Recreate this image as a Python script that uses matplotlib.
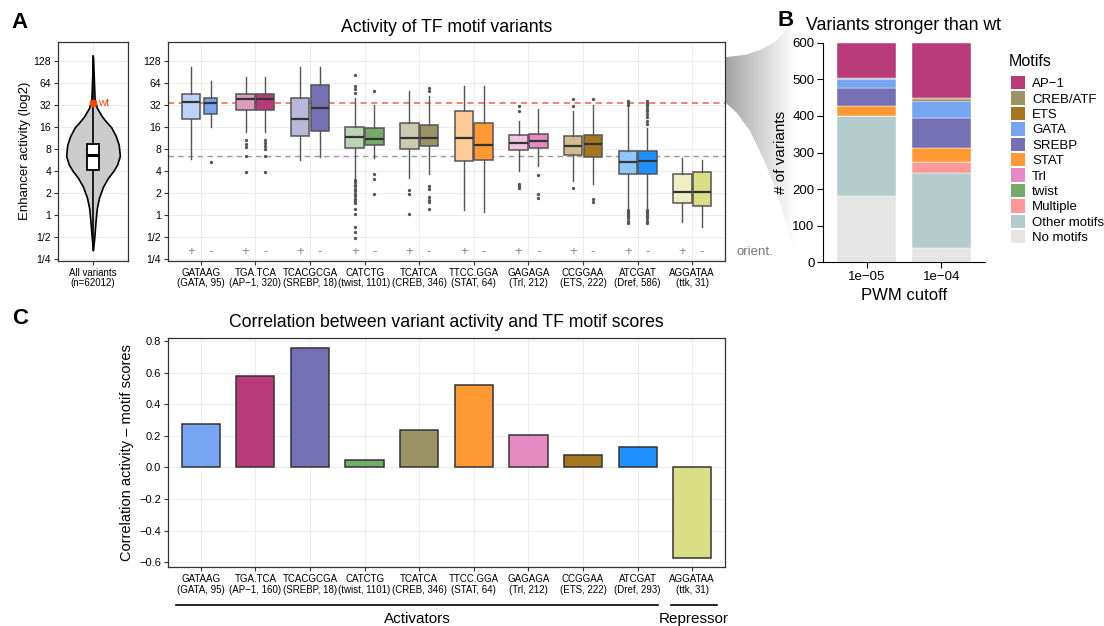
import matplotlib
matplotlib.use('Agg')
import matplotlib.pyplot as plt
import numpy as np
from matplotlib.patches import Patch, Polygon
from matplotlib.lines import Line2D
from matplotlib.colors import to_rgb

plt.rcParams['font.family'] = ['Liberation Sans', 'DejaVu Sans']

W, H = 1104, 626

# ---------------- data ----------------
motif_seqs = ['GATAAG', 'TGA.TCA', 'TCACGCGA', 'CATCTG', 'TCATCA',
              'TTCC.GGA', 'GAGAGA', 'CCGGAA', 'ATCGAT', 'AGGATAA']
motif_tfs = ['GATA', 'AP−1', 'SREBP', 'twist', 'CREB', 'STAT', 'Trl', 'ETS', 'Dref', 'ttk']
n_variants_a = [95, 320, 18, 1101, 346, 64, 212, 222, 586, 31]
n_variants_c = [95, 160, 18, 1101, 346, 64, 212, 222, 293, 31]
motif_colors = ['#76A6F2', '#B83A78', '#7570B3', '#74AA6A', '#9A9464',
                '#FF9933', '#E78AC3', '#A5761F', '#1E90FF', '#DADE84']

# enhancer activity (log2) box stats, "+" orientation
plus_lo = [2.56, 3.78, 2.53, 1.70, 1.70, 0.25, 2.00, 1.54, 0.32, -0.32]
plus_q1 = [4.36, 4.80, 3.59, 3.07, 2.99, 2.46, 2.96, 2.73, 1.88, 0.55]
plus_med = [5.16, 5.28, 4.38, 3.55, 3.52, 3.51, 3.30, 3.17, 2.43, 1.04]
plus_q3 = [5.54, 5.52, 5.34, 4.03, 4.21, 4.74, 3.63, 3.60, 2.91, 1.88]
plus_hi = [6.77, 6.27, 6.77, 5.35, 5.64, 5.89, 4.29, 4.74, 4.92, 2.61]
plus_fliers = [
    [],
    [3.43, 3.26, 3.11, 2.68, 1.95],
    [],
    [6.39, 5.89, 5.73, 5.58, 1.62, 1.50, 1.39, 1.32, 1.19, 1.08, 0.98, 0.86,
     0.74, 0.63, 0.55, 0.29, 0.05, -0.52, -0.79, -1.05],
    [1.13, 0.96, 0.06],
    [],
    [4.97, 4.74, 1.44, 1.32, 1.22],
    [5.27, 4.97, 1.24],
    [5.18, 5.10, 5.03, 0.25, 0.15, 0.05, -0.05, -0.15, -0.25, -0.36],
    [],
]
# "-" orientation
minus_lo = [4.03, 3.78, 2.66, 2.61, 1.88, 0.14, 2.23, 1.44, 0.32, -0.52]
minus_q1 = [4.59, 4.80, 3.83, 3.19, 3.14, 2.53, 3.04, 2.66, 1.88, 0.43]
minus_med = [5.09, 5.28, 4.88, 3.49, 3.51, 3.19, 3.37, 3.22, 2.45, 1.07]
minus_q3 = [5.34, 5.52, 5.93, 3.98, 4.10, 4.18, 3.71, 3.66, 2.91, 1.96]
minus_hi = [6.09, 6.27, 6.77, 5.00, 5.43, 5.89, 4.82, 5.00, 3.96, 2.53]
minus_fliers = [
    [2.41],
    [3.44, 3.29, 3.14, 3.02, 2.68, 1.95],
    [],
    [5.66, 1.88, 1.66, 0.98],
    [5.78, 5.66, 1.34, 1.19, 0.81, 0.70, 0.58, 0.28],
    [],
    [1.82, 0.98, 0.78],
    [5.31, 0.73, 0.58],
    [5.20, 5.12, 5.05, 4.95, 4.85, 4.75, 4.60, 4.45, 4.30, 4.15,
     0.25, 0.15, 0.05, -0.05, -0.15, -0.25, -0.36],
    [],
]
box_widths_minus = [0.25, 0.34, 0.34, 0.34, 0.34, 0.34, 0.34, 0.34, 0.34, 0.34]

wt_log2 = 5.09
all_median_log2 = 2.70

# all variants violin (log2 activity vs relative density)
vio_log2 = [7.23, 6.0, 5.3, 4.9, 4.5, 4.2, 4.0, 3.6, 3.2, 2.7, 2.3, 2.0,
            1.7, 1.3, 0.8, 0.3, -0.3, -1.0, -1.6]
vio_density = [0, 0.037, 0.06, 0.14, 0.33, 0.53, 0.68, 0.85, 0.96, 1.0, 0.90,
               0.75, 0.56, 0.375, 0.225, 0.14, 0.094, 0.049, 0]
vio_q1, vio_med, vio_q3 = 2.06, 2.72, 3.25

log2_ticks = [-2, -1, 0, 1, 2, 3, 4, 5, 6, 7]
log2_labels = ['1/4', '1/2', '1', '2', '4', '8', '16', '32', '64', '128']

# panel B: variants stronger than wt
cutoffs = ['1e−05', '1e−04']
stack_cats = ['No motifs', 'Other motifs', 'Multiple', 'twist', 'Trl', 'STAT',
              'SREBP', 'GATA', 'ETS', 'CREB/ATF', 'AP−1']
stack_colors = ['#E5E5E5', '#B3CDCC', '#FF9999', '#74AA6A', '#E78AC3', '#FF9933',
                '#7570B3', '#76A6F2', '#A5761F', '#9A9464', '#B83A78']
counts_1e05 = [181, 219, 0, 0, 0, 27, 50, 24, 0, 2, 97]
counts_1e04 = [38, 205, 32, 0, 0, 36, 82, 49, 4, 4, 150]
legend_order = ['AP−1', 'CREB/ATF', 'ETS', 'GATA', 'SREBP', 'STAT', 'Trl',
                'twist', 'Multiple', 'Other motifs', 'No motifs']

# panel C: correlation activity vs motif score
corr_values = [0.273, 0.578, 0.753, 0.044, 0.239, 0.523, 0.205, 0.078, 0.129, -0.574]
corr_ticks = [-0.6, -0.4, -0.2, 0.0, 0.2, 0.4, 0.6, 0.8]

# ---------------- figure ----------------
fig = plt.figure(figsize=(W / 100, H / 100), dpi=100)


def px_axes(x0, y0, x1, y1):
    return fig.add_axes([x0 / W, 1 - y1 / H, (x1 - x0) / W, (y1 - y0) / H])


def style_box(ax):
    for s in ax.spines.values():
        s.set_color('#333333')
        s.set_linewidth(0.9)
    ax.tick_params(length=3, width=0.8, color='#333333', pad=2)
    ax.grid(color='#EDEDED', lw=0.7)
    ax.set_axisbelow(True)


def lighten(c, f=0.5):
    r, g, b = to_rgb(c)
    return (r + (1 - r) * f, g + (1 - g) * f, b + (1 - b) * f)


# grey "zoom" wedge between A and B
ax_bg = px_axes(0, 0, W, H)
ax_bg.set_xlim(0, W)
ax_bg.set_ylim(H, 0)
ax_bg.axis('off')
grad = np.linspace(0.64, 1.0, 256)[None, :]
im = ax_bg.imshow(grad, cmap='gray', vmin=0, vmax=1, extent=(726, 795, 255, 18), aspect='auto')
top_edge = [(726, 57), (745, 55), (760, 50), (775, 42), (785, 31), (795, 18)]
bot_edge = [(795, 255), (787, 226), (777, 192), (764, 160), (750, 131), (737, 113), (726, 103)]
wedge = Polygon(top_edge + bot_edge, closed=True, transform=ax_bg.transData,
                facecolor='none', edgecolor='none')
ax_bg.add_patch(wedge)
im.set_clip_path(wedge)

# ---- panel A: violin ----
ax_v = px_axes(58, 41.5, 128, 261)
style_box(ax_v)
vd = np.array(vio_density) * 0.46
ax_v.fill_betweenx(vio_log2, 1 - vd, 1 + vd, facecolor='#CCCCCC', edgecolor='black', lw=1.2, zorder=2)
ax_v.bxp([{'med': vio_med, 'q1': vio_q1, 'q3': vio_q3, 'whislo': vio_log2[-1],
           'whishi': vio_log2[0], 'fliers': []}], positions=[1], widths=0.2,
         patch_artist=True, showcaps=False, showfliers=False,
         boxprops=dict(facecolor='white', edgecolor='black', lw=1.3),
         medianprops=dict(color='black', lw=2.2),
         whiskerprops=dict(color='black', lw=1.2), zorder=3)
ax_v.plot([1], [wt_log2], 'o', color='#FF4500', ms=4.5, zorder=4)
ax_v.text(1.08, wt_log2, 'wt', color='#FF4500', fontsize=8, va='center', zorder=4)
ax_v.set_xlim(0.4, 1.6)
ax_v.set_ylim(-2.09, 7.91)
ax_v.set_yticks(log2_ticks)
ax_v.set_yticklabels(log2_labels, fontsize=7.5)
ax_v.set_xticks([1])
ax_v.set_xticklabels(['All variants\n(n=62012)'], fontsize=7, linespacing=1.05)
ax_v.set_ylabel('Enhancer activity (log2)', fontsize=9.5, labelpad=2)

# ---- panel A: boxplots ----
ax_a = px_axes(168, 41.5, 725, 261)
style_box(ax_a)
groups = np.arange(1, len(motif_seqs) + 1)
ax_a.axhline(wt_log2, color='#F0603C', ls=(0, (4, 3)), lw=1.1, zorder=1.5)
ax_a.axhline(all_median_log2, color='#999999', ls=(0, (4, 3)), lw=1.0, zorder=1.5)

for stats_lo, q1s, meds, q3s, his, fls, offs, light in [
        (plus_lo, plus_q1, plus_med, plus_q3, plus_hi, plus_fliers, -0.18, True),
        (minus_lo, minus_q1, minus_med, minus_q3, minus_hi, minus_fliers, 0.18, False)]:
    stats = [{'med': meds[i], 'q1': q1s[i], 'q3': q3s[i], 'whislo': stats_lo[i],
              'whishi': his[i], 'fliers': fls[i]} for i in range(len(groups))]
    widths = [0.34] * len(groups) if light else box_widths_minus
    bp = ax_a.bxp(stats, positions=groups + offs, widths=widths, patch_artist=True,
                  showcaps=False,
                  boxprops=dict(edgecolor='#555555', lw=1.1),
                  medianprops=dict(color='#333333', lw=1.6),
                  whiskerprops=dict(color='#555555', lw=1.0),
                  flierprops=dict(marker='o', markerfacecolor='#555555',
                                  markeredgecolor='none', markersize=2.4),
                  zorder=2)
    for patch, col in zip(bp['boxes'], motif_colors):
        patch.set_facecolor(lighten(col, 0.5) if light else col)

for g in groups:
    ax_a.text(g - 0.18, -1.67, '+', color='#888888', fontsize=9.5, ha='center', va='center')
    ax_a.text(g + 0.18, -1.67, '-', color='#888888', fontsize=9.5, ha='center', va='center')

ax_a.set_xlim(0.4, 10.6)
ax_a.set_ylim(-2.09, 7.91)
ax_a.set_yticks(log2_ticks)
ax_a.set_yticklabels(log2_labels, fontsize=7.5)
ax_a.set_xticks(groups)
ax_a.set_xticklabels([f'{s}\n({t}, {n})' for s, t, n in zip(motif_seqs, motif_tfs, n_variants_a)],
                     fontsize=7, linespacing=1.05)
ax_a.set_title('Activity of TF motif variants', fontsize=12.7, pad=7)
fig.text(755 / W, 1 - 252 / H, 'orient.', color='#777777', fontsize=9.5, ha='center', va='center')

# ---- panel B ----
ax_b = px_axes(823, 42.7, 985, 262.3)
bottom = np.zeros(2)
for cat, col, a, b in zip(stack_cats, stack_colors, counts_1e05, counts_1e04):
    vals = np.array([a, b])
    ax_b.bar([1, 2], vals, bottom=bottom, width=0.79, color=col, edgecolor='white', lw=0.3)
    bottom += vals
ax_b.set_xlim(0.41, 2.59)
ax_b.set_ylim(0, 600)
ax_b.set_yticks(range(0, 601, 100))
ax_b.set_xticks([1, 2])
ax_b.set_xticklabels(cutoffs)
ax_b.spines['top'].set_visible(False)
ax_b.spines['right'].set_visible(False)
ax_b.tick_params(labelsize=9.5, length=4, pad=2)
ax_b.set_xlabel('PWM cutoff', fontsize=12, labelpad=4)
ax_b.set_ylabel('# of variants', fontsize=11, labelpad=3)
ax_b.set_title('Variants stronger than wt', fontsize=12.7, pad=9)

handles = [Patch(facecolor=stack_colors[stack_cats.index(c)], edgecolor='none') for c in legend_order]
fig.text(1009 / W, 1 - 62 / H, 'Motifs', fontsize=11.5, ha='left', va='center')
fig.legend(handles, legend_order, loc='upper left', bbox_to_anchor=(1011 / W, 1 - 76 / H),
           frameon=False, fontsize=9.5,
           handlelength=1.05, handleheight=1.17, labelspacing=0.1, handletextpad=0.55,
           borderaxespad=0, borderpad=0)

# ---- panel C ----
ax_c = px_axes(168, 338.3, 725, 567.3)
style_box(ax_c)
ax_c.bar(groups, corr_values, width=0.7, color=motif_colors, edgecolor='#333333', lw=1.1, zorder=2)
ax_c.set_xlim(0.4, 10.6)
ax_c.set_ylim(-0.632, 0.817)
ax_c.set_yticks(corr_ticks)
ax_c.set_yticklabels([f'{v:.1f}'.replace('-', '−') for v in corr_ticks], fontsize=8)
ax_c.set_xticks(groups)
ax_c.set_xticklabels([f'{s}\n({t}, {n})' for s, t, n in zip(motif_seqs, motif_tfs, n_variants_c)],
                     fontsize=7, linespacing=1.05)
ax_c.set_ylabel('Correlation activity – motif scores', fontsize=10.5, labelpad=4)
ax_c.set_title('Correlation between variant activity and TF motif scores', fontsize=12.7, pad=8)

fig.add_artist(Line2D([176 / W, 658 / W], [1 - 605 / H] * 2, color='black', lw=1.2))
fig.add_artist(Line2D([671 / W, 717 / W], [1 - 605 / H] * 2, color='black', lw=1.2))
fig.text(417 / W, 1 - 619 / H, 'Activators', fontsize=11, ha='center', va='center')
fig.text(694 / W, 1 - 619 / H, 'Repressor', fontsize=11, ha='center', va='center')

# panel letters
for lab, x, y in [('A', 20, 22), ('B', 786, 21), ('C', 20, 318)]:
    fig.text(x / W, 1 - y / H, lab, fontsize=16, fontweight='bold', ha='center', va='center')

fig.savefig('out.png', dpi=100)
